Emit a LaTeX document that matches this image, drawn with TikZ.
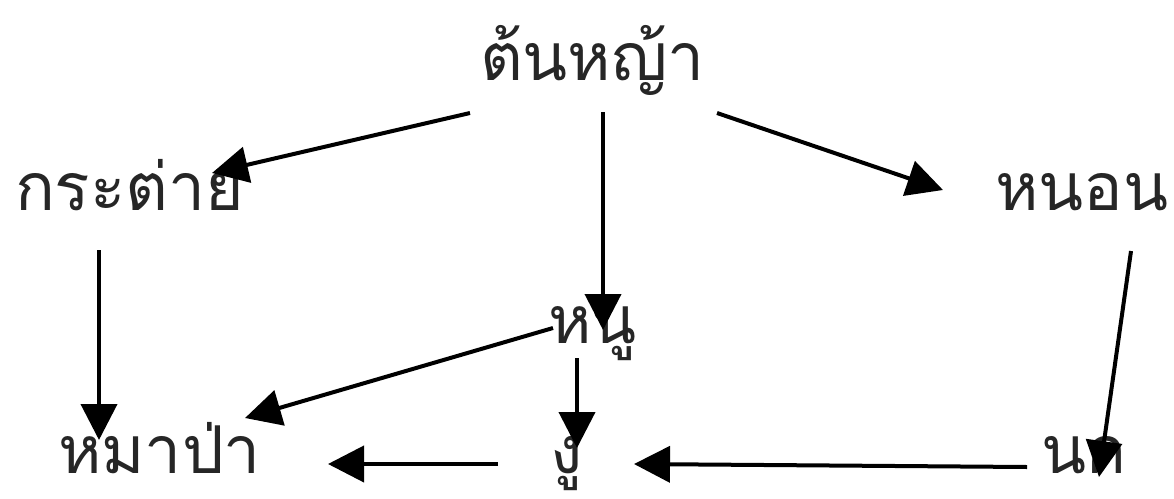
\documentclass[tikz,border=0pt]{standalone}
\usepackage{fontspec}
\newfontfamily\thaifont[Script=Thai]{Loma}
\usetikzlibrary{arrows.meta}
\begin{document}
\begin{tikzpicture}[x=1pt,y=-1pt,
  lbl/.style={anchor=base west,inner sep=0pt,outer sep=0pt,font=\thaifont\fontsize{66}{66}\selectfont,text=black!85},
  arr/.style={line width=4pt,-{Triangle[length=36pt,width=36pt]}}]
\useasboundingbox (0,0) rectangle (1174,498);
\node[lbl] (top) at (480,80) {ต้นหญ้า};
\node[lbl] (rabbit) at (15,210) {กระต่าย};
\node[lbl] (worm) at (995,210) {หนอน};
\node[lbl] (rat) at (548,343) {หนู};
\node[lbl] (wolf) at (58,473) {หมาป่า};
\node[lbl] (snake) at (550,473) {งู};
\node[lbl] (bird) at (1041,473) {นก};
\draw[arr] ([shift={(-10,33)}]top.base west) -- ([shift={(197,-37)}]rabbit.base west);
\draw[arr] ([shift={(123,32)}]top.base west) -- ([shift={(55,-13)}]rat.base west);
\draw[arr] ([shift={(237,33)}]top.base west) -- ([shift={(-52,-20)}]worm.base west);
\draw[arr] ([shift={(84,40)}]rabbit.base west) -- ([shift={(41,-33)}]wolf.base west);
\draw[arr] ([shift={(136,41)}]worm.base west) -- ([shift={(58,4)}]bird.base west);
\draw[arr] ([shift={(5,-15)}]rat.base west) -- ([shift={(187,-55)}]wolf.base west);
\draw[arr] ([shift={(29,15)}]rat.base west) -- ([shift={(27,-25)}]snake.base west);
\draw[arr] ([shift={(-52,-9)}]snake.base west) -- ([shift={(270,-9)}]wolf.base west);
\draw[arr] ([shift={(-14,-6)}]bird.base west) -- ([shift={(84,-9)}]snake.base west);
\end{tikzpicture}
\end{document}
